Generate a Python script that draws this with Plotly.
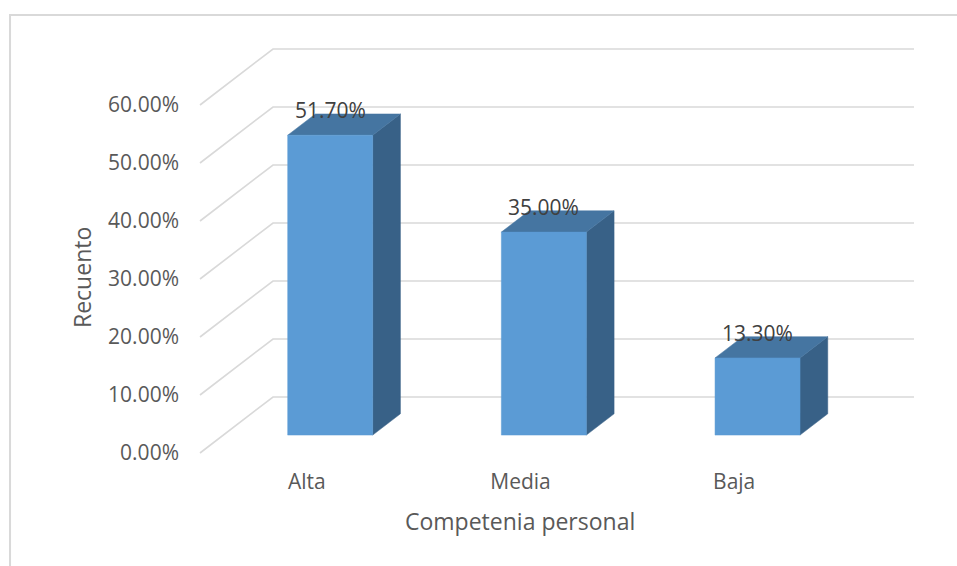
import plotly.graph_objects as go

# ---- data -------------------------------------------------------------
categories = ["Alta", "Media", "Baja"]
values = [51.70, 35.00, 13.30]          # percent
y_ticks = [0, 10, 20, 30, 40, 50, 60]    # percent
y_tick_text = [f"{t:.2f}%" for t in y_ticks]

# ---- geometry of the oblique 3-D look (in axis units) ------------------
PX_PER_CAT = 213.7      # pixels per category slot
PX_PER_PCT = 5.8        # pixels per percent
DX = 73 / PX_PER_CAT    # horizontal depth shift (front -> back wall)
DY = 56 / PX_PER_PCT    # vertical depth shift (front -> back wall)
D_FRONT, D_BACK = 0.32, 0.70   # bar depth span (0 = front plane, 1 = back wall)
HALF_W = 85 / PX_PER_CAT / 2   # half width of a bar

X_LEFT = -0.5
X_RIGHT = len(categories) - 0.5

# plot area in pixels (front-left 0% corner sits at x=200, y=453)
W, H = 957, 566
PAD = 6
x0_px, y0_px = 200, 453
left_px = x0_px - PAD
right_px = x0_px + (X_RIGHT - X_LEFT + DX) * PX_PER_CAT + PAD
top_px = y0_px - (max(y_ticks) + DY) * PX_PER_PCT - PAD
bottom_px = y0_px + PAD

x_range = [X_LEFT - PAD / PX_PER_CAT, X_LEFT + (right_px - x0_px) / PX_PER_CAT]
y_range = [-PAD / PX_PER_PCT, (y0_px - top_px) / PX_PER_PCT]

plot_w = right_px - left_px
plot_h = bottom_px - top_px


def paper_x(px):
    return (px - left_px) / plot_w


def paper_y(py):
    return (bottom_px - py) / plot_h


GRID = "#D9D9D9"
FRONT = "#5B9BD5"
TOP = "#4575A1"
SIDE = "#386187"
TEXT = "#595959"
FONT = "Open Sans"
TICK_SIZE = 21

fig = go.Figure()

# gridlines: diagonal from the front plane to the back wall, then across it
for v in y_ticks:
    fig.add_trace(go.Scatter(
        x=[X_LEFT, X_LEFT + DX, X_RIGHT + DX],
        y=[v, v + DY, v + DY],
        mode="lines",
        line=dict(color=GRID, width=1.6),
        hoverinfo="skip",
        showlegend=False,
    ))


def poly(xs, ys, color):
    fig.add_trace(go.Scatter(
        x=xs + [xs[0]], y=ys + [ys[0]],
        mode="lines", fill="toself", fillcolor=color,
        line=dict(color=color, width=0.5),
        hoverinfo="skip", showlegend=False,
    ))


for i, v in enumerate(values):
    xf_l = i - HALF_W + D_FRONT * DX
    xf_r = i + HALF_W + D_FRONT * DX
    xb_l = i - HALF_W + D_BACK * DX
    xb_r = i + HALF_W + D_BACK * DX
    yf0, yf1 = D_FRONT * DY, v + D_FRONT * DY
    yb0, yb1 = D_BACK * DY, v + D_BACK * DY
    # side face
    poly([xf_r, xb_r, xb_r, xf_r], [yf0, yb0, yb1, yf1], SIDE)
    # top face
    poly([xf_l, xf_r, xb_r, xb_l], [yf1, yf1, yb1, yb1], TOP)
    # front face
    poly([xf_l, xf_r, xf_r, xf_l], [yf0, yf0, yf1, yf1], FRONT)
    # value label
    fig.add_annotation(
        x=i + D_FRONT * DX, y=yb1, xref="x", yref="y",
        text=f"{v:.2f}%", showarrow=False, yshift=4,
        xanchor="center", yanchor="middle",
        font=dict(family=FONT, size=TICK_SIZE, color="#404040"),
    )

# axis titles
fig.add_annotation(
    x=paper_x(82), y=paper_y(278), xref="paper", yref="paper",
    xanchor="center", yanchor="middle",
    text="Recuento", textangle=-90, showarrow=False,
    font=dict(family=FONT, size=23, color=TEXT),
)
fig.add_annotation(
    x=paper_x(520), y=paper_y(521), xref="paper", yref="paper",
    xanchor="center", yanchor="middle",
    text="Competenia personal", showarrow=False,
    font=dict(family=FONT, size=23, color=TEXT),
)

# outer chart frame
fig.add_shape(
    type="rect", xref="paper", yref="paper",
    x0=paper_x(10), x1=paper_x(W + 20), y0=paper_y(H + 20), y1=paper_y(15),
    line=dict(color=GRID, width=2), fillcolor="rgba(0,0,0,0)", layer="below",
)

fig.update_layout(
    width=W, height=H,
    margin=dict(l=left_px, r=W - right_px, t=top_px, b=H - bottom_px, pad=0),
    paper_bgcolor="white", plot_bgcolor="white",
    showlegend=False,
    xaxis=dict(
        range=x_range, tickvals=list(range(len(categories))), ticktext=categories,
        showgrid=False, zeroline=False, showline=False, ticks="",
        tickfont=dict(family=FONT, size=TICK_SIZE, color=TEXT),
        ticklabelstandoff=8, fixedrange=True,
    ),
    yaxis=dict(
        range=y_range, tickvals=y_ticks, ticktext=y_tick_text,
        showgrid=False, zeroline=False, showline=False, ticks="",
        tickfont=dict(family=FONT, size=TICK_SIZE, color=TEXT),
        ticklabelstandoff=14, fixedrange=True,
    ),
)

fig.write_html("out.html")
